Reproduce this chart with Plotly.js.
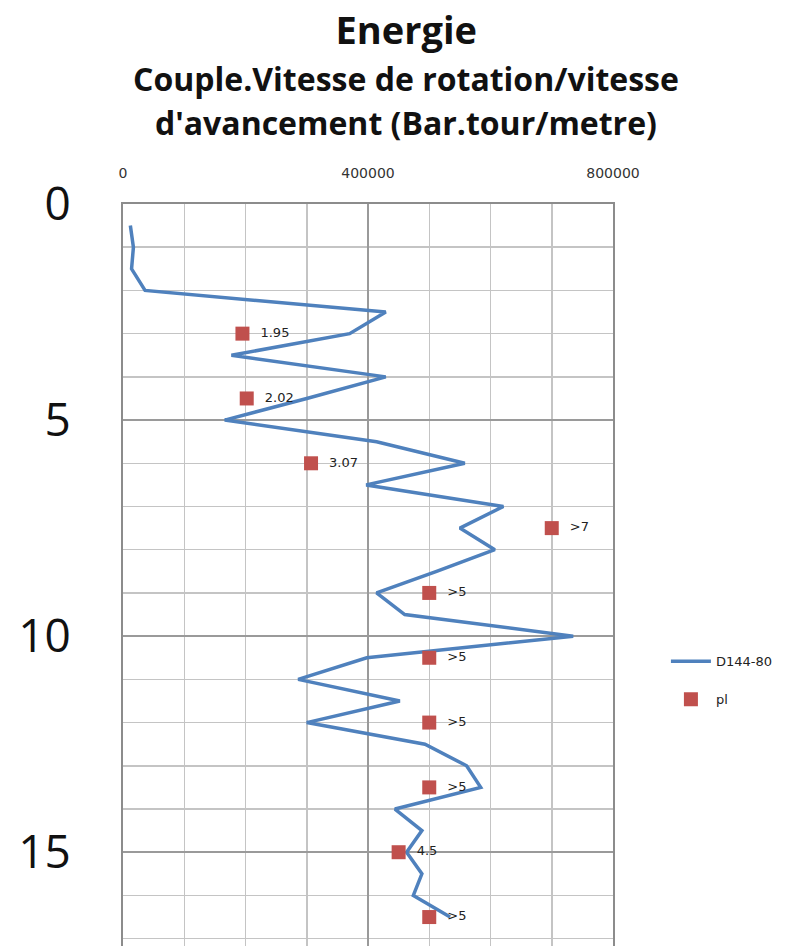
<!DOCTYPE html>
<html>
<head>
<meta charset="utf-8">
<script src="https://cdn.plot.ly/plotly-3.0.1.min.js"></script>
<style>
  html, body { margin: 0; padding: 0; background: #ffffff; }
  #chart { width: 792px; height: 946px; }
</style>
</head>
<body>
<div id="chart"></div>
<script>
// Depth (m) of each energy reading for borehole D144-80
const depth = [0.5, 1.0, 1.5, 2.0, 2.5, 3.0, 3.5, 4.0, 4.5, 5.0, 5.5, 6.0, 6.5, 7.0, 7.5, 8.0,
               8.5, 9.0, 9.5, 10.0, 10.5, 11.0, 11.5, 12.0, 12.5, 13.0, 13.5, 14.0, 14.5,
               15.0, 15.5, 16.0, 16.5];
// Energy: torque x rotation speed / advance speed (Bar.tour/metre)
const energy = [12000, 17000, 14000, 36000, 429000, 370000, 177000, 429000, 300000, 166000,
                414000, 558000, 397000, 621000, 550000, 607000, 512000, 414000, 460000,
                735000, 398000, 286000, 452000, 300000, 493000, 561000, 584000, 444000,
                488000, 463000, 488000, 474000, 534000];

// Pressuremeter limit pressure (pl, MPa) and the depth of each test
const plDepth = [3.0, 4.5, 6.0, 7.5, 9.0, 10.5, 12.0, 13.5, 15.0, 16.5];
const plValue = [1.95, 2.02, 3.07, 7, 5, 5, 5, 5, 4.5, 5];
const plLabel = ["1.95", "2.02", "3.07", ">7", ">5", ">5", ">5", ">5", "4.5", ">5"];
// pl is drawn on the energy scale: 1 MPa -> 100000
const plScale = 100000;

// Axis tick values
const xTicks = [0, 400000, 800000];
const yTicks = [0, 5, 10, 15];

const traces = [
  {
    name: "D144-80",
    legendgroup: "energy",
    type: "scatter",
    mode: "lines",
    x: energy,
    y: depth,
    line: { color: "#4F81BD", width: 3.5 },
    hoverinfo: "x+y"
  },
  {
    name: "pl",
    legendgroup: "pl",
    type: "scatter",
    mode: "markers+text",
    x: plValue.map(v => v * plScale),
    y: plDepth,
    text: plLabel.map(t => "  " + t),
    textposition: "middle right",
    textfont: { family: "DejaVu Sans, sans-serif", size: 13, color: "#222222" },
    marker: { symbol: "square", size: 14, color: "#C0504D" },
    cliponaxis: false
  }
];

const layout = {
  width: 792,
  height: 946,
  paper_bgcolor: "#ffffff",
  plot_bgcolor: "#ffffff",
  margin: { l: 123, r: 179, t: 204, b: 0, pad: 0 },
  showlegend: true,
  title: {
    text: "<b>Energie</b>",
    font: { family: "Open Sans, sans-serif", size: 38, color: "#111111" },
    xref: "container", x: 0.513, xanchor: "center",
    yref: "container", y: 0.968, yanchor: "middle"
  },
  annotations: [
    {
      text: "<b>Couple.Vitesse de rotation/vitesse</b>",
      xref: "paper", yref: "paper",
      x: 0.578, y: 1.1695, xanchor: "center", yanchor: "middle",
      showarrow: false,
      font: { family: "Open Sans, sans-serif", size: 32, color: "#111111" }
    },
    {
      text: "<b>d'avancement (Bar.tour/metre)</b>",
      xref: "paper", yref: "paper",
      x: 0.578, y: 1.1105, xanchor: "center", yanchor: "middle",
      showarrow: false,
      font: { family: "Open Sans, sans-serif", size: 32, color: "#111111" }
    }
  ],
  xaxis: {
    side: "top",
    range: [0, 800000],
    tickvals: xTicks,
    ticktext: xTicks.map(String),
    ticks: "",
    ticklabelstandoff: 18,
    tickfont: { family: "DejaVu Sans, sans-serif", size: 14, color: "#333333" },
    showgrid: true,
    gridcolor: "#9a9a9a",
    gridwidth: 1.5,
    minor: { dtick: 100000, showgrid: true, gridcolor: "#c4c4c4", gridwidth: 1.5 },
    zeroline: false,
    showline: true,
    mirror: true,
    linecolor: "#8c8c8c",
    linewidth: 2,
    fixedrange: true
  },
  yaxis: {
    range: [17.17, 0],
    tickvals: yTicks,
    ticktext: yTicks.map(String),
    ticks: "",
    ticklabelstandoff: 41,
    tickfont: { family: "Open Sans, sans-serif", size: 46, color: "#111111" },
    showgrid: true,
    gridcolor: "#9a9a9a",
    gridwidth: 1.5,
    minor: { dtick: 1, showgrid: true, gridcolor: "#c4c4c4", gridwidth: 1.5 },
    zeroline: false,
    showline: true,
    mirror: true,
    linecolor: "#8c8c8c",
    linewidth: 2,
    fixedrange: true
  },
  legend: {
    x: 1.108, xanchor: "left",
    y: 0.358, yanchor: "middle",
    bgcolor: "rgba(0,0,0,0)",
    font: { family: "DejaVu Sans, sans-serif", size: 13, color: "#222222" },
    itemwidth: 40,
    tracegroupgap: 18
  }
};

Plotly.newPlot("chart", traces, layout, { displayModeBar: false, staticPlot: true });
</script>
</body>
</html>
